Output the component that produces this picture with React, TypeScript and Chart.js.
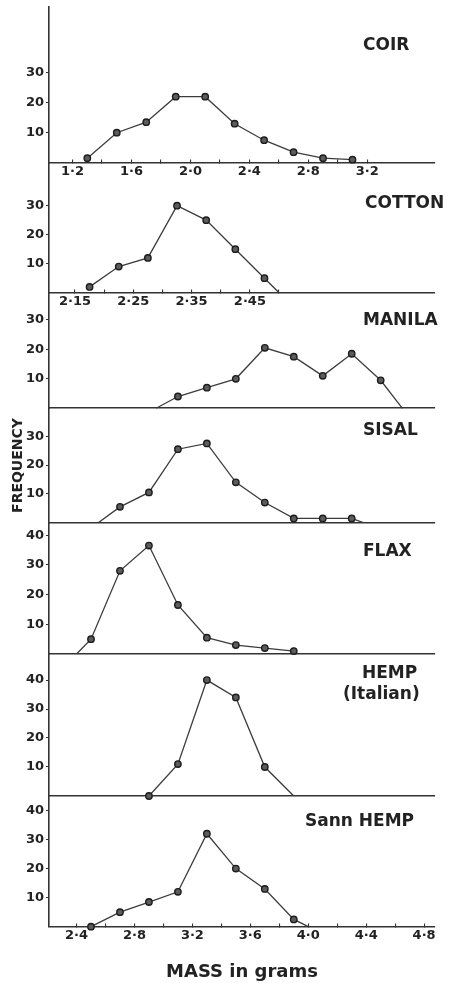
import React, { useEffect, useRef } from 'react';
import { Chart, registerables } from 'chart.js';

Chart.register(...registerables);

// ---------------- data ----------------
const coirMass = [1.3, 1.5, 1.7, 1.9, 2.1, 2.3, 2.5, 2.7, 2.9, 3.1];
const coirFreq = [1.5, 10, 13.5, 22, 22, 13, 7.5, 3.5, 1.5, 1];

const cottonMass = [2.175, 2.225, 2.275, 2.325, 2.375, 2.425, 2.475, 2.5];
const cottonFreq = [2, 9, 12, 30, 25, 15, 5, 0];

const manilaMass = [2.95, 3.1, 3.3, 3.5, 3.7, 3.9, 4.1, 4.3, 4.5, 4.65];
const manilaFreq = [0, 4, 7, 10, 20.5, 17.5, 11, 18.5, 9.5, 0];

const sisalMass = [2.55, 2.7, 2.9, 3.1, 3.3, 3.5, 3.7, 3.9, 4.1, 4.3, 4.38];
const sisalFreq = [0, 5.5, 10.5, 25.5, 27.5, 14, 7, 1.5, 1.5, 1.5, 0];

const flaxMass = [2.4, 2.5, 2.7, 2.9, 3.1, 3.3, 3.5, 3.7, 3.9];
const flaxFreq = [0, 5, 28, 36.5, 16.5, 5.5, 3, 2, 1];

const hempMass = [2.9, 3.1, 3.3, 3.5, 3.7, 3.9];
const hempFreq = [0, 11, 40, 34, 10, 0];

const sannMass = [2.5, 2.7, 2.9, 3.1, 3.3, 3.5, 3.7, 3.9, 4.0];
const sannFreq = [0, 5, 8.5, 12, 32, 20, 13, 2.5, 0];

// tick values and labels
const coirTicks = [1.2, 1.4, 1.6, 1.8, 2.0, 2.2, 2.4, 2.6, 2.8, 3.0, 3.2];
const coirTickLabels = ['1·2', '', '1·6', '', '2·0', '', '2·4', '', '2·8', '', '3·2'];
const cottonTicks = [2.15, 2.2, 2.25, 2.3, 2.35, 2.4, 2.45, 2.5];
const cottonTickLabels = ['2·15', '', '2·25', '', '2·35', '', '2·45', ''];
const massTicks = [2.4, 2.6, 2.8, 3.0, 3.2, 3.4, 3.6, 3.8, 4.0, 4.2, 4.4, 4.6, 4.8];
const massTickLabels = ['2·4', '', '2·8', '', '3·2', '', '3·6', '', '4·0', '', '4·4', '', '4·8'];
const freqTicks3 = [10, 20, 30];
const freqTicks4 = [10, 20, 30, 40];

const xAxisTitle = 'MASS in grams';
const yAxisTitle = 'FREQUENCY';

// ---------------- panels ----------------
const panels = [
  { id: 'Coir', name: ['COIR'], mass: coirMass, freq: coirFreq, yTicks: freqTicks3, xTicks: coirTicks, xLabels: coirTickLabels },
  { id: 'Cotton', name: ['COTTON'], mass: cottonMass, freq: cottonFreq, yTicks: freqTicks3, xTicks: cottonTicks, xLabels: cottonTickLabels },
  { id: 'Manila', name: ['MANILA'], mass: manilaMass, freq: manilaFreq, yTicks: freqTicks3, xTicks: null, xLabels: null },
  { id: 'Sisal', name: ['SISAL'], mass: sisalMass, freq: sisalFreq, yTicks: freqTicks3, xTicks: null, xLabels: null },
  { id: 'Flax', name: ['FLAX'], mass: flaxMass, freq: flaxFreq, yTicks: freqTicks4, xTicks: null, xLabels: null },
  { id: 'Hemp', name: ['HEMP', '(Italian)'], mass: hempMass, freq: hempFreq, yTicks: freqTicks4, xTicks: null, xLabels: null },
  { id: 'Sann', name: ['Sann HEMP'], mass: sannMass, freq: sannFreq, yTicks: freqTicks4, xTicks: massTicks, xLabels: massTickLabels },
];

// ---------------- layout / style (kept apart from the data) ----------------
const layoutOf: Record<string, any> = {
  Coir: { weight: 155.7, yMax: 51.9, xMin: 1.04, xMax: 3.66, unmarked: [], nameX: [363], nameDy: [39] },
  Cotton: { weight: 130, yMax: 44.8, xMin: 2.1054, xMax: 2.7675, unmarked: [7], nameX: [365], nameDy: [40.5] },
  Manila: { weight: 115.6, yMax: 39.2, xMin: 2.21, xMax: 4.875, unmarked: [0, 9], nameX: [363], nameDy: [28] },
  Sisal: { weight: 114.4, yMax: 39.7, xMin: 2.21, xMax: 4.875, unmarked: [0, 10], nameX: [363], nameDy: [22] },
  Flax: { weight: 131.3, yMax: 44.2, xMin: 2.21, xMax: 4.875, unmarked: [0], nameX: [363], nameDy: [29] },
  Hemp: { weight: 142, yMax: 49, xMin: 2.21, xMax: 4.875, unmarked: [5], nameX: [362, 343], nameDy: [20, 41] },
  Sann: { weight: 130.7, yMax: 45, xMin: 2.21, xMax: 4.875, unmarked: [8], nameX: [305], nameDy: [26] },
};

const FONT = '"DejaVu Sans", "Liberation Sans", sans-serif';
const INK = '#222222';
const AXIS = '#333333';
const LINE = '#3c3c3c';
const LEFT_W = 49;

Chart.defaults.font.family = FONT;

const namePlugin = {
  id: 'fibreNames',
  afterDraw(chart: any) {
    const ctx = chart.ctx;
    ctx.save();
    ctx.font = `bold 17px ${FONT}`;
    ctx.fillStyle = INK;
    ctx.textBaseline = 'middle';
    ctx.textAlign = 'left';
    panels.forEach((p) => {
      const s = chart.scales['y' + p.id];
      const L = layoutOf[p.id];
      p.name.forEach((line, k) => {
        ctx.fillText(line, L.nameX[k], s.top + L.nameDy[k]);
      });
    });
    ctx.restore();
  },
};

function buildConfig(): any {
  const scales: Record<string, any> = {};

  panels.forEach((p) => {
    const L = layoutOf[p.id];
    const hasTicks = !!p.xTicks;
    const pos: Record<string, number> = {};
    pos['y' + p.id] = 0;
    scales['x' + p.id] = {
      type: 'linear',
      axis: 'x',
      position: pos,
      min: L.xMin,
      max: L.xMax,
      afterBuildTicks: (s: any) => {
        if (hasTicks) s.ticks = (p.xTicks as number[]).map((v) => ({ value: v }));
      },
      afterFit: (s: any) => {
        s.paddingLeft = 0;
        s.paddingRight = 0;
      },
      ticks: {
        display: hasTicks,
        autoSkip: false,
        maxRotation: 0,
        minRotation: 0,
        padding: 5,
        color: INK,
        font: { size: 13, weight: 'bold' },
        callback: (_v: any, i: number) => (hasTicks ? (p.xLabels as string[])[i] : ''),
      },
      grid: {
        display: hasTicks,
        drawOnChartArea: false,
        drawTicks: true,
        tickLength: -4,
        color: AXIS,
        lineWidth: 1.1,
      },
      border: { display: true, color: AXIS, width: 1.6 },
      title:
        p.id === 'Sann'
          ? {
              display: true,
              text: xAxisTitle,
              color: INK,
              font: { size: 18, weight: 'bold' },
              padding: { top: 13, bottom: 0 },
            }
          : { display: false },
    };
  });

  // y scales: bottom panel first so the last one (Coir) ends up on top of the stack
  [...panels].reverse().forEach((p) => {
    const L = layoutOf[p.id];
    scales['y' + p.id] = {
      type: 'linear',
      axis: 'y',
      position: 'left',
      stack: 'panels',
      stackWeight: L.weight,
      min: 0,
      max: L.yMax,
      offset: false,
      afterBuildTicks: (s: any) => {
        s.ticks = p.yTicks.map((v) => ({ value: v }));
      },
      afterFit: (s: any) => {
        s.width = LEFT_W;
        s.paddingTop = 0;
        s.paddingBottom = 0;
      },
      ticks: {
        padding: 2,
        color: INK,
        font: { size: 13, weight: 'bold' },
        callback: (v: any) => String(v),
      },
      grid: {
        drawOnChartArea: false,
        drawTicks: true,
        tickLength: 3,
        color: AXIS,
        lineWidth: 1.1,
      },
      border: { display: true, color: AXIS, width: 1.6 },
      title:
        p.id === 'Sisal'
          ? {
              display: true,
              text: yAxisTitle,
              color: INK,
              font: { size: 14, weight: 'bold' },
              padding: { top: 10, bottom: 0 },
            }
          : { display: false },
    };
  });

  const datasets = panels.map((p) => {
    const L = layoutOf[p.id];
    return {
      label: p.name.join(' '),
      data: p.mass.map((m, i) => ({ x: m, y: p.freq[i] })),
      xAxisID: 'x' + p.id,
      yAxisID: 'y' + p.id,
      borderColor: LINE,
      borderWidth: 1.3,
      tension: 0,
      fill: false,
      clip: false,
      pointRadius: (c: any) => (L.unmarked.includes(c.dataIndex) ? 0 : 3.2),
      pointBorderWidth: 1.4,
      pointBorderColor: '#1c1c1c',
      pointBackgroundColor: '#5c5c5c',
    };
  });

  return {
    type: 'line',
    data: { datasets },
    options: {
      responsive: false,
      animation: false,
      devicePixelRatio: 1,
      layout: { padding: { top: 7, bottom: 56.3, left: 0, right: 15 } },
      plugins: {
        legend: { display: false },
        tooltip: { enabled: false },
        title: { display: false },
      },
      scales,
    },
    plugins: [namePlugin],
  };
}

export default function App() {
  const ref = useRef<HTMLCanvasElement>(null);
  useEffect(() => {
    document.body.style.margin = '0';
    const chart = new Chart(ref.current as HTMLCanvasElement, buildConfig());
    return () => chart.destroy();
  }, []);
  return (
    <div style={{ width: 450, height: 983, background: '#ffffff' }}>
      <canvas ref={ref} width={450} height={983} style={{ display: 'block' }} />
    </div>
  );
}
